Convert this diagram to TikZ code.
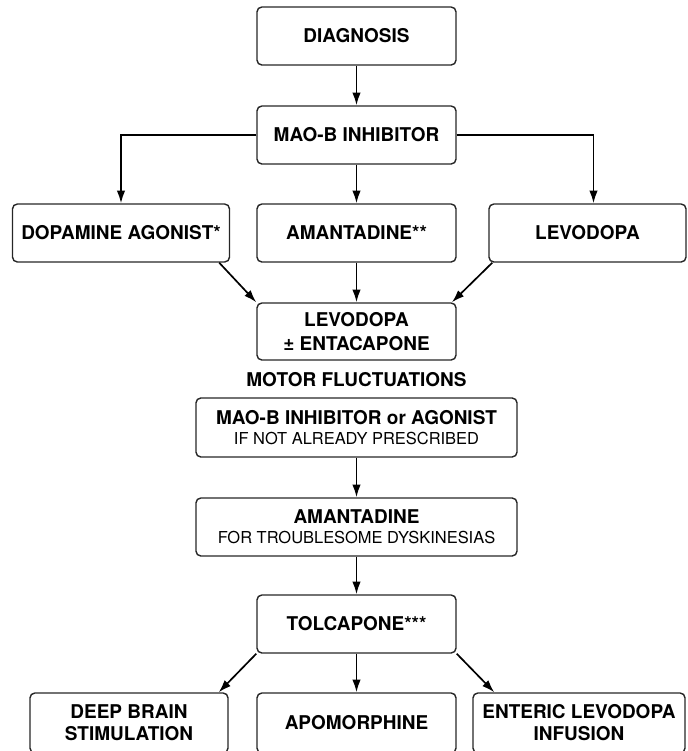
\documentclass[tikz,border=0pt]{standalone}
\usepackage{fontspec}
\setmainfont{TeX Gyre Heros}
\usetikzlibrary{arrows.meta}
\begin{document}
\begin{tikzpicture}[x=0.025cm, y=-0.025cm,
  box/.style={draw=black!85, line width=1pt, rounded corners=3.5pt,
    align=center, inner sep=0pt, minimum height=1.45cm,
    font=\fontsize{13.5}{15.6}\selectfont\bfseries},
  arr/.style={-{Latex[length=9pt,width=6pt]}, line width=1.2pt}]
  \useasboundingbox (0,0) rectangle (687,751);
  \node[box, minimum width=4.975cm] (diag) at (356.5,36) {DIAGNOSIS};
  \node[box, minimum width=4.975cm] (maob) at (356.5,135) {MAO-B INHIBITOR};
  \node[box, minimum width=5.425cm] (dop) at (121,233) {DOPAMINE AGONIST*};
  \node[box, minimum width=4.975cm] (amant) at (356.5,233) {AMANTADINE**};
  \node[box, minimum width=4.925cm] (levo) at (587.5,233) {LEVODOPA};
  \node[box, minimum width=4.975cm, minimum height=1.425cm] (levent) at (356.5,331.5)
    {LEVODOPA\\[1pt]± ENTACAPONE};
  \node[font=\fontsize{13.5}{15.6}\selectfont\bfseries] (motor) at (356.5,380) {MOTOR FLUCTUATIONS};
  \node[box, minimum width=8.025cm, minimum height=1.475cm] (maoag) at (356.5,427.5)
    {MAO-B INHIBITOR or AGONIST\\[-1.5pt]{\fontsize{11.7}{14}\selectfont\mdseries IF NOT ALREADY PRESCRIBED}};
  \node[box, minimum width=8.025cm] (amant2) at (356.5,527)
    {AMANTADINE\\[-1.5pt]{\fontsize{11.7}{14}\selectfont\mdseries FOR TROUBLESOME DYSKINESIAS}};
  \node[box, minimum width=4.975cm] (tolc) at (356.5,624) {TOLCAPONE***};
  \node[box, minimum width=4.95cm, minimum height=1.5cm] (dbs) at (129,723)
    {DEEP BRAIN\\STIMULATION};
  \node[box, minimum width=4.975cm, minimum height=1.5cm] (apo) at (356.5,723) {APOMORPHINE};
  \node[box, minimum width=5.3cm, minimum height=1.5cm] (ent) at (579,723)
    {ENTERIC LEVODOPA\\INFUSION};

  \draw[arr] (diag) -- (maob);
  \draw[arr] (maob.west) -| (dop.north);
  \draw[arr] (maob.east) -| ([xshift=0.15cm]levo.north);
  \draw[arr] (maob) -- (amant);
  \draw[arr] ([xshift=-0.275cm]dop.south east) -- (levent.north west);
  \draw[arr] (amant) -- (levent);
  \draw[arr] ([xshift=0.1cm]levo.south west) -- ([xshift=-0.12cm]levent.north east);
  \draw[arr] (maoag) -- (amant2);
  \draw[arr] (amant2) -- (tolc);
  \draw[arr] (tolc.south west) -- ([xshift=-0.25cm]dbs.north east);
  \draw[arr] (tolc) -- (apo);
  \draw[arr] (tolc.south east) -- ([xshift=0.55cm]ent.north west);
\end{tikzpicture}
\end{document}
